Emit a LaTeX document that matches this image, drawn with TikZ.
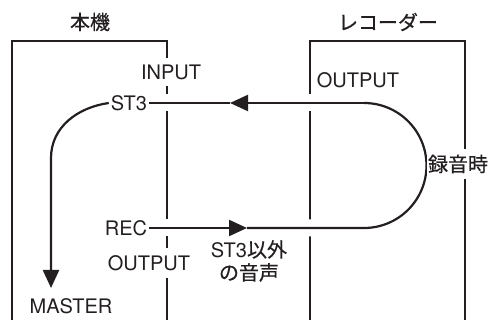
\documentclass[tikz,border=0pt]{standalone}
\usepackage{fontspec}
\setmainfont{TeX Gyre Heros}
\newfontfamily\jpfont[FakeBold=0.6]{Noto Sans CJK JP}
\usetikzlibrary{arrows.meta}
\definecolor{inkgray}{RGB}{35,31,32}
\tikzset{
    lab/.style={
        font=\fontsize{20}{23}\selectfont, text=inkgray, inner sep=2pt
    },
    jlab/.style={
        font=\jpfont\fontsize{20}{23}\selectfont, text=inkgray, inner sep=2pt
    }
}

\begin{document}
\begin{tikzpicture}[x=1pt,y=1pt, line join=miter]

\tikzset{
  box/.style={draw=inkgray, line width=2.5pt},
  flow/.style={draw=inkgray, line width=2.2pt},
  halo/.style={preaction={draw=white, line width=17pt, -}},
  tip/.style={-{Triangle[length=18pt,width=16pt]}},
  cut/.style={fill=white, inner xsep=1pt, inner ysep=7pt},
}

\useasboundingbox (0,0) rectangle (488,-320);

% boxes, open at the bottom
\draw[box] (12,-320) -- (12,-41) -- (167,-41) -- (167,-320);
\draw[box] (310,-320) -- (310,-41) -- (465,-41) -- (465,-320);

% titles
\node[jlab] (MAIN) at (90,-22) {本機};
\node[jlab] (RECR) at (388,-22) {レコーダー};

% labels
\node[lab, cut] (IN) at (171,-72) {INPUT};
\node[lab] (ST) at (129,-103) {ST3};
\node[lab] (REC) at (126,-228) {REC};
\node[lab, cut] (OUT) at (149,-263) {OUTPUT};
\node[lab] (MAS) at (71,-306) {MASTER};
\node[lab] (ROUT) at (358,-80) {OUTPUT};
\node[lab, align=center] (OTHER) at (249,-261) {ST3{\jpfont 以外}\\{\jpfont の音声}};

% loop points
\coordinate (RT) at (247,-228);
\coordinate (TB) at (364,-228);
\coordinate (TT) at (364,-103);
\coordinate (ST3T) at (230,-103);
\coordinate (BEND) at (51,-158);
\coordinate (MT) at (51,-288);

% REC OUTPUT -> recorder -> ST3 INPUT
\draw[flow, halo, tip] (REC.east) -- (RT);
\draw[flow, halo] (RT) -- (TB) arc[start angle=-90, end angle=90, radius=62.5];
\draw[flow, halo, tip] (TT) -- (ST3T);
\draw[flow, halo] (ST3T) -- (ST.east);

% ST3 -> MASTER
\draw[flow, tip] (ST.west) to[out=188,in=90] (BEND) -- (MT);

% over the right edge, after the loop
\node[jlab, cut, inner ysep=6pt] (TIME) at (458,-164) {録音時};

\end{tikzpicture}
\end{document}
